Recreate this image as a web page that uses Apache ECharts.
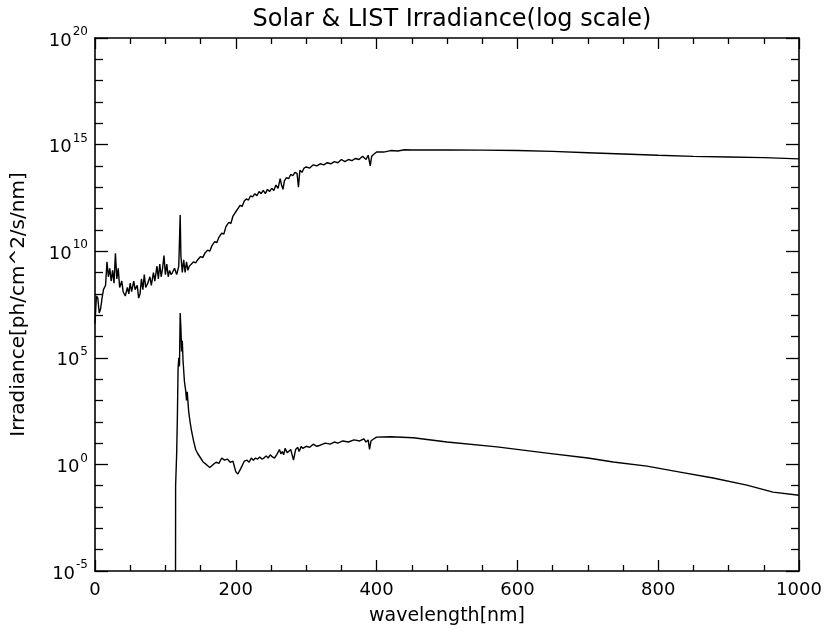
<!DOCTYPE html>
<html>
<head>
<meta charset="utf-8">
<script src="https://cdn.jsdelivr.net/npm/echarts@6/dist/echarts.min.js"></script>
<style>
  html, body { margin: 0; padding: 0; background: #fff; }
  #chart { width: 827px; height: 634px; }
</style>
</head>
<body>
<div id="chart"></div>
<script>
// values; irradiance kept as log10 (the plot is log scale)
var solarWave = [0, 2, 4, 6, 8, 10, 12, 15, 17, 19, 21, 23, 25, 27, 29, 31, 33, 35, 38, 40,
  43, 46, 48, 50, 52, 55, 57, 60, 62, 64, 66, 68, 70, 72, 75, 78, 80, 83, 85, 88,
  90, 92, 94, 96, 98, 100, 102, 104, 106, 108, 110, 113, 116, 119, 121, 122, 124, 126, 128, 130,
  132, 134, 137, 140, 143, 146, 150, 153, 156, 160, 163, 166, 170, 173, 176, 180, 183, 186, 190, 193,
  196, 200, 203, 206, 209, 212, 215, 218, 221, 224, 227, 230, 233, 236, 239, 242, 245, 248, 251, 254,
  257, 260, 263, 265, 267, 269, 272, 275, 278, 281, 284, 287, 289, 291, 294, 297, 300, 305, 310, 315,
  320, 325, 330, 335, 340, 345, 350, 355, 360, 365, 370, 375, 380, 385, 388, 391, 393, 396, 400, 410,
  420, 430, 440, 450, 500, 550, 600, 650, 700, 750, 800, 850, 900, 950, 1000];
var solarLog = [6.6, 7.9, 7.8, 7.1, 7.3, 7.8, 8.2, 8.4, 9.5, 8.8, 9.2, 8.6, 9.1, 8.5, 9.9, 8.7, 9.2, 8.3, 8.6, 8.1,
  7.9, 8.3, 8.0, 8.5, 8.1, 8.6, 8.2, 8.4, 7.8, 8.0, 8.7, 8.2, 8.9, 8.3, 8.5, 8.8, 8.4, 9.0, 8.6, 9.3,
  8.7, 9.4, 8.8, 9.2, 9.8, 8.9, 9.4, 8.8, 9.1, 8.9, 9.0, 9.2, 8.9, 9.3, 11.7, 9.8, 9.0, 9.6, 9.0, 9.5,
  9.1, 9.3, 9.4, 9.5, 9.45, 9.6, 9.75, 9.7, 9.9, 10.05, 10.0, 10.25, 10.45, 10.4, 10.65, 10.85, 10.8, 11.15, 11.35, 11.3,
  11.65, 11.85, 12.0, 12.15, 12.1, 12.35, 12.45, 12.4, 12.6, 12.55, 12.7, 12.6, 12.8, 12.7, 12.85, 12.7, 12.9, 12.8, 12.95, 12.85,
  13.1, 12.95, 13.4, 13.1, 12.9, 13.3, 13.45, 13.4, 13.6, 13.55, 13.7, 13.65, 13.0, 13.8, 13.7, 13.9, 13.95, 13.9, 14.05, 14.0,
  14.1, 14.05, 14.15, 14.1, 14.2, 14.15, 14.3, 14.2, 14.3, 14.25, 14.35, 14.3, 14.45, 14.3, 14.5, 14.0, 14.45, 14.55, 14.65, 14.65,
  14.72, 14.7, 14.76, 14.75, 14.75, 14.74, 14.72, 14.68, 14.62, 14.56, 14.5, 14.45, 14.42, 14.39, 14.33];

var listWave = [114.4, 114.5, 116, 117, 118, 119, 120, 121, 122, 123, 124, 125, 127, 129, 130, 131, 133, 135, 137, 140,
  143, 146, 150, 154, 158, 163, 168, 172, 176, 180, 184, 188, 192, 196, 200, 203, 207, 212, 216, 219,
  222, 225, 228, 231, 234, 237, 240, 243, 246, 249, 252, 255, 258, 262, 264, 266, 268, 270, 273, 275,
  278, 280, 282, 285, 288, 290, 293, 295, 300, 305, 310, 315, 320, 327, 334, 340, 345, 352, 360, 368,
  376, 382, 385, 388, 390, 392, 396, 400, 420, 452, 500, 571, 642, 700, 736, 784, 831, 878, 926, 963, 1000];
var listLog = [-5, -1.0, 0.5, 2.2, 4.5, 5.0, 4.6, 7.1, 6.4, 5.3, 5.8, 4.9, 3.9, 3.4, 3.0, 3.4, 2.5, 2.0, 1.6, 1.1,
  0.7, 0.5, 0.3, 0.1, 0.0, -0.15, 0.0, 0.1, 0.05, 0.3, 0.2, 0.25, 0.1, 0.15, -0.35, -0.45, -0.2, 0.15, 0.2, 0.1,
  0.3, 0.2, 0.3, 0.25, 0.35, 0.25, 0.3, 0.4, 0.3, 0.45, 0.35, 0.3, 0.45, 0.7, 0.5, 0.6, 0.45, 0.75, 0.55, 0.6,
  0.7, 0.45, 0.2, 0.7, 0.8, 0.6, 0.85, 0.75, 0.85, 0.8, 0.95, 0.85, 0.9, 1.0, 0.95, 1.05, 1.0, 1.1, 1.05, 1.15,
  1.1, 1.2, 1.05, 1.15, 0.7, 1.1, 1.2, 1.28, 1.3, 1.25, 1.05, 0.82, 0.53, 0.3, 0.11, -0.08, -0.36, -0.64, -0.97, -1.3, -1.45];

var fontName = 'DejaVu Sans';

function pairs(xs, ys) {
  var out = [];
  for (var i = 0; i < xs.length; i++) {
    out.push([xs[i], ys[i]]);
  }
  return out;
}

var chart = echarts.init(document.getElementById('chart'));

var tickX = { show: true, inside: true, length: 11, lineStyle: { color: '#000', width: 1.3 } };
var minorX = { show: true, splitNumber: 4, length: 6, lineStyle: { color: '#000', width: 1.3 } };
var tickY = { show: true, inside: true, length: 13, lineStyle: { color: '#000', width: 1.3 } };
var minorY = { show: true, splitNumber: 5, length: 8, lineStyle: { color: '#000', width: 1.3 } };
var line = { show: true, onZero: false, lineStyle: { color: '#000', width: 1.6 } };

option = {
  backgroundColor: '#fff',
  animation: false,
  title: {
    text: 'Solar & LIST Irradiance(log scale)',
    left: 447,
    textAlign: 'center',
    top: 3,
    textStyle: { fontFamily: fontName, fontSize: 24, fontWeight: 'normal', color: '#000' }
  },
  grid: { left: 95, right: 28, top: 38, bottom: 63 },
  xAxis: [{
    type: 'value', min: 0, max: 1000, interval: 200,
    name: 'wavelength[nm]', nameLocation: 'middle', nameGap: 36,
    nameTextStyle: { fontFamily: fontName, fontSize: 19, color: '#000' },
    axisLine: line, axisTick: tickX, minorTick: minorX,
    splitLine: { show: false },
    axisLabel: {
      margin: 10, fontFamily: fontName, fontSize: 18, color: '#000',
      formatter: function (v) { return String(v); }
    }
  }, {
    type: 'value', min: 0, max: 1000, interval: 200, position: 'top',
    axisLine: line, axisTick: tickX, minorTick: minorX,
    splitLine: { show: false }, axisLabel: { show: false }
  }],
  yAxis: [{
    type: 'value', min: -5, max: 20, interval: 5,
    name: 'Irradiance[ph/cm^2/s/nm]', nameLocation: 'middle', nameGap: 66,
    nameTextStyle: { fontFamily: fontName, fontSize: 20, color: '#000' },
    axisLine: line, axisTick: tickY, minorTick: minorY,
    splitLine: { show: false },
    axisLabel: {
      margin: 7,
      formatter: function (v) { return '{b|10}{s|' + v + '}'; },
      rich: {
        b: { fontFamily: fontName, fontSize: 18, color: '#000', lineHeight: 24, verticalAlign: 'bottom' },
        s: { fontFamily: fontName, fontSize: 12, color: '#000', lineHeight: 24, verticalAlign: 'top', padding: [0, 0, 0, 1] }
      }
    }
  }, {
    type: 'value', min: -5, max: 20, interval: 5, position: 'right',
    axisLine: line, axisTick: tickY, minorTick: minorY,
    splitLine: { show: false }, axisLabel: { show: false }
  }],
  series: [{
    name: 'Solar',
    type: 'line',
    data: pairs(solarWave, solarLog),
    showSymbol: false,
    lineStyle: { color: '#000', width: 1.4 },
    clip: true
  }, {
    name: 'LIST',
    type: 'line',
    data: pairs(listWave, listLog),
    showSymbol: false,
    lineStyle: { color: '#000', width: 1.4 },
    clip: true
  }]
};
chart.setOption(option, true);
</script>
</body>
</html>
